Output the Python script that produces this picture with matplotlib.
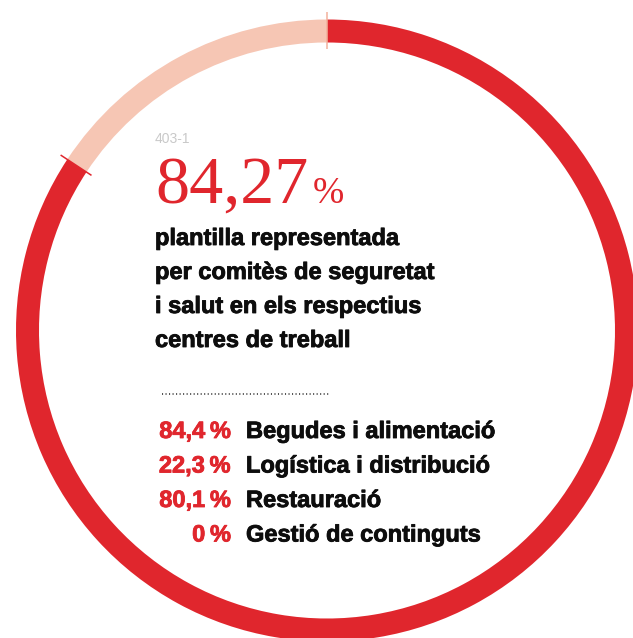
import matplotlib
matplotlib.use("Agg")
import matplotlib.pyplot as plt
import matplotlib.patheffects as pe
import numpy as np

# share of staff represented by health & safety committees
total_share = 84.27
ring_values = [total_share, 100 - total_share]
ring_colors = ['#E0262D', '#F6C6B4']

headline_lines = ['plantilla representada',
                  'per comitès de seguretat',
                  'i salut en els respectius',
                  'centres de treball']

segments = ['Begudes i alimentació', 'Logística i distribució',
            'Restauració', 'Gestió de continguts']
segment_values = [84.4, 22.3, 80.1, 0]

RED = '#E0262D'
INK = '#0D0D0D'
W, H = 633, 638
sans = ['Liberation Sans', 'DejaVu Sans']
serif = ['Liberation Serif', 'DejaVu Serif']


def fmt(v):
    return f"{v:g}".replace('.', ',') + '\u2009%'


def heavy(col):
    # a touch of stroke so the bold face reads a bit blacker
    return [pe.withStroke(linewidth=0.6, foreground=col)]


fig = plt.figure(figsize=(W / 100, H / 100), dpi=100)
ax = fig.add_axes([0, 0, 1, 1])

cx, cy = 327, H - 330.5
r_out, ring_w = 311, 23
ax.pie(ring_values, colors=ring_colors, startangle=90, counterclock=False,
       radius=r_out, center=(cx, cy),
       wedgeprops=dict(width=ring_w, linewidth=0))

# small marks across the ring at both segment boundaries
bounds = 90 - 360 * np.cumsum([0] + ring_values[:-1]) / 100
for ang, col in zip(bounds, ['#F2B29C', RED]):
    a = np.deg2rad(ang)
    r0, r1 = r_out - ring_w - 6, r_out + 8
    ax.plot([cx + r0 * np.cos(a), cx + r1 * np.cos(a)],
            [cy + r0 * np.sin(a), cy + r1 * np.sin(a)],
            color=col, lw=1.1, solid_capstyle='butt', zorder=3)

ax.set_xlim(0, W)
ax.set_ylim(0, H)
ax.axis('off')

ax.text(155, H - 143, '403-1', color='#C9C9C9', fontsize=10, family=sans)
ax.text(155, H - 203, f"{total_share:.2f}".replace('.', ','),
        color=RED, fontsize=49, family=serif)
ax.text(313, H - 203, '%', color=RED, fontsize=27, family=serif)

for i, line in enumerate(headline_lines):
    ax.text(155, H - (245 + 34 * i), line, fontsize=17,
            fontweight='bold', family=sans, color=INK,
            path_effects=heavy(INK))

ax.plot([162, 330], [H - 394, H - 394], color='#222222', lw=1.1,
        linestyle=(0, (0.7, 1.6)))

for i, (name, v) in enumerate(zip(segments, segment_values)):
    y = H - (438 + 34.5 * i)
    ax.text(231, y, fmt(v), ha='right', fontsize=17, fontweight='bold',
            family=sans, color=RED, path_effects=heavy(RED))
    ax.text(246, y, name, fontsize=17, fontweight='bold',
            family=sans, color=INK, path_effects=heavy(INK))

fig.savefig('out.png', dpi=100)
